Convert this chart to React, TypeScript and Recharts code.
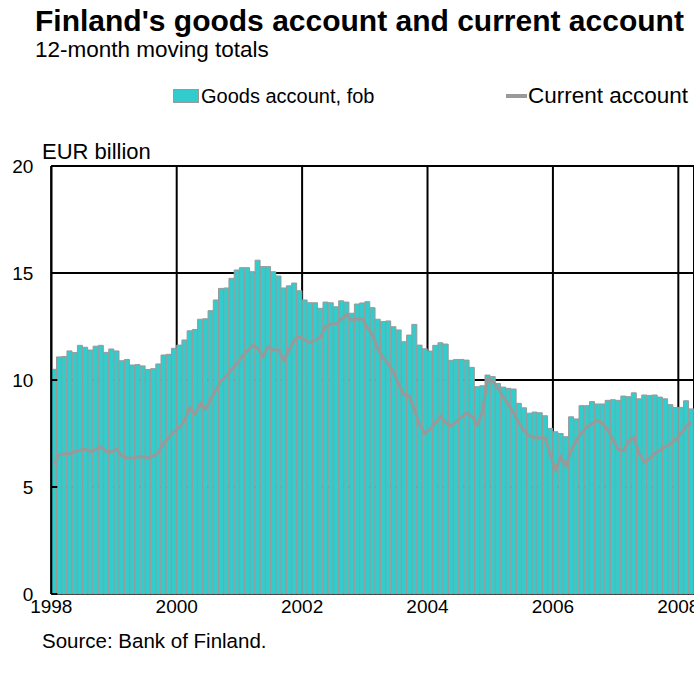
import { ComposedChart, Bar, Line, XAxis, YAxis, CartesianGrid } from 'recharts';

// 12-month moving totals, EUR billion, monthly from Jan 1998
const goods = [
  10.5, 11.08, 11.1, 11.36, 11.28, 11.62, 11.53, 11.4, 11.58, 11.62, 11.29, 11.45,
  11.36, 10.9, 10.96, 10.7, 10.72, 10.66, 10.49, 10.53, 10.75, 11.17, 11.2, 11.48,
  11.63, 11.87, 12.3, 12.36, 12.84, 12.86, 13.24, 13.74, 14.28, 14.3, 14.75, 15.14,
  15.25, 15.25, 15.06, 15.6, 15.3, 15.3, 15.06, 14.86, 14.3, 14.4, 14.53, 14.17,
  13.74, 13.61, 13.61, 13.35, 13.64, 13.61, 13.42, 13.7, 13.64, 13.12, 13.55, 13.6,
  13.66, 13.38, 12.84, 12.73, 12.76, 12.49, 12.34, 11.79, 12.1, 12.6, 11.63, 11.46,
  11.35, 11.62, 11.74, 11.68, 10.92, 10.96, 10.96, 10.93, 10.59, 9.69, 9.73, 10.23,
  10.16, 9.84, 9.67, 9.61, 9.58, 8.91, 8.7, 8.45, 8.5, 8.47, 8.33, 7.74,
  7.58, 7.5, 7.35, 8.28, 8.18, 8.8, 8.8, 8.99, 8.88, 8.88, 9.05, 9.08,
  9.05, 9.25, 9.22, 9.4, 9.12, 9.3, 9.28, 9.3, 9.2, 9.12, 8.85, 8.72,
  8.72, 9.03, 8.65,
];

const current = [
  6.05, 6.5, 6.55, 6.55, 6.65, 6.72, 6.76, 6.65, 6.76, 6.88, 6.65, 6.65,
  6.76, 6.45, 6.35, 6.35, 6.4, 6.42, 6.35, 6.45, 6.6, 7.05, 7.3, 7.6,
  7.8, 8.1, 8.7, 8.4, 8.9, 8.65, 9.1, 9.55, 9.95, 10.2, 10.5, 10.75,
  11.1, 11.35, 11.63, 11.48, 11.1, 11.56, 11.4, 11.4, 10.93, 11.4, 11.87, 12.02,
  11.87, 11.75, 11.87, 12.0, 12.5, 12.62, 12.62, 12.84, 13.06, 12.8, 12.85, 12.85,
  12.45, 12.1, 11.45, 11.05, 10.75, 10.35, 9.8, 9.3, 9.25, 8.6, 7.9, 7.5,
  7.7, 8.0, 8.3, 8.0, 7.85, 8.05, 8.25, 8.45, 8.3, 7.9, 8.5, 10.05,
  9.95, 9.6, 9.2, 8.85, 8.45, 8.0, 7.6, 7.4, 7.3, 7.3, 7.3, 6.5,
  5.8, 6.4, 6.0, 6.7, 7.2, 7.55, 7.8, 7.97, 8.12, 7.97, 7.66, 7.2,
  6.75, 6.7, 7.15, 7.3, 6.57, 6.15, 6.34, 6.57, 6.72, 6.88, 7.02, 7.22,
  7.5, 7.85, 8.0,
];

const yearTicks = [0, 24, 48, 72, 96, 120];
const yearLabels = ['1998', '2000', '2002', '2004', '2006', '2008'];
const yTicks = [0, 5, 10, 15, 20];

const months = goods.map(
  (_, i) => `${1998 + Math.floor(i / 12)}-${String((i % 12) + 1).padStart(2, '0')}`
);
// pos = middle of each month on a continuous month scale
const data = months.map((month, i) => ({ month, pos: i + 0.5, goods: goods[i], current: current[i] }));

const FONT = '"Liberation Sans", Arial, sans-serif';
const CYAN = '#33CCCC';
const GREY = '#999999';

function YTick(props: any) {
  const { x, y, payload } = props;
  const axisX = x + 18;
  return (
    <g>
      <line x1={axisX} x2={axisX + 6} y1={y} y2={y} stroke="#000" strokeWidth={2} />
      <text x={x} y={y} dy={7} textAnchor="end" fontSize={19} fontFamily={FONT} fill="#000">
        {payload.value}
      </text>
    </g>
  );
}

export default function App() {
  return (
    <div
      style={{
        position: 'fixed',
        left: 0,
        top: 0,
        width: 694,
        height: 673,
        overflow: 'hidden',
        background: '#fff',
        fontFamily: FONT,
        color: '#000',
      }}
    >
      <div style={{ position: 'absolute', left: 35, top: 6, fontSize: 30, fontWeight: 'bold', lineHeight: 1, whiteSpace: 'nowrap' }}>
        Finland's goods account and current account
      </div>
      <div style={{ position: 'absolute', left: 35, top: 39, fontSize: 22.5, lineHeight: 1, whiteSpace: 'nowrap' }}>
        12-month moving totals
      </div>

      {/* legend */}
      <div style={{ position: 'absolute', left: 173, top: 89, width: 24, height: 12, background: CYAN, border: `1px solid ${GREY}` }} />
      <div style={{ position: 'absolute', left: 201, top: 86, fontSize: 20, lineHeight: 1, whiteSpace: 'nowrap' }}>
        Goods account, fob
      </div>
      <div style={{ position: 'absolute', left: 506, top: 94, width: 21, height: 4, background: GREY }} />
      <div style={{ position: 'absolute', left: 528, top: 85, fontSize: 22.5, lineHeight: 1, whiteSpace: 'nowrap' }}>
        Current account
      </div>

      <div style={{ position: 'absolute', left: 42, top: 141, fontSize: 22, lineHeight: 1, whiteSpace: 'nowrap' }}>
        EUR billion
      </div>

      <div style={{ position: 'absolute', left: 0, top: 0 }}>
        <ComposedChart
          width={694}
          height={624}
          data={data}
          margin={{ top: 166, right: 0, bottom: 0, left: 6.3 }}
          barCategoryGap={0}
          barGap={0}
        >
          <CartesianGrid xAxisId="yr" stroke="#000" strokeWidth={2} />
          <XAxis
            xAxisId="yr"
            dataKey="pos"
            type="number"
            domain={[0, 123]}
            ticks={yearTicks}
            interval={0}
            allowDataOverflow
            tickFormatter={(v: number) => yearLabels[yearTicks.indexOf(v)]}
            axisLine={false}
            tickLine={false}
            tickSize={0}
            tickMargin={6}
            height={30}
            tick={{ fontSize: 19, fontFamily: FONT, fill: '#000' }}
          />
          <XAxis xAxisId="m" dataKey="month" type="category" hide height={0} />
          <YAxis
            type="number"
            domain={[0, 20]}
            ticks={yTicks}
            interval={0}
            width={45}
            axisLine={{ stroke: '#000', strokeWidth: 2 }}
            tickLine={false}
            tickSize={0}
            tickMargin={18}
            tick={<YTick />}
          />
          <Bar
            xAxisId="m"
            dataKey="goods"
            fill={CYAN}
            stroke={GREY}
            strokeWidth={1}
            isAnimationActive={false}
          />
          <Line
            xAxisId="m"
            type="linear"
            dataKey="current"
            stroke={GREY}
            strokeWidth={3}
            dot={false}
            isAnimationActive={false}
          />
        </ComposedChart>
      </div>

      <div style={{ position: 'absolute', left: 42, top: 631, fontSize: 20.5, lineHeight: 1, whiteSpace: 'nowrap' }}>
        Source: Bank of Finland.
      </div>
    </div>
  );
}
